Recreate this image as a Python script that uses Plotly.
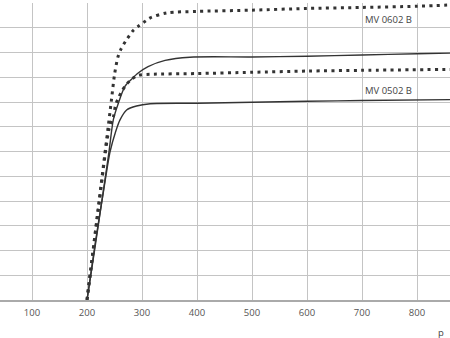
import plotly.graph_objects as go

# MV 0602 B, dotted curve (upper)
x_602_dot = [200, 222, 244, 250, 256, 262, 270, 284, 295, 307, 315, 345, 400, 500, 600, 700, 800, 870]
y_602_dot = [0, 4.0, 8.0, 9.1, 9.8, 10.15, 10.45, 10.89, 11.09, 11.28, 11.4, 11.6, 11.66, 11.71, 11.78, 11.82, 11.87, 11.93]

# MV 0602 B, solid curve
x_602_sol = [200, 215, 230, 240, 248, 257, 269, 281, 293, 311, 342, 387, 500, 600, 700, 800, 870]
y_602_sol = [0, 2.2, 4.45, 6.0, 7.3, 7.95, 8.63, 8.92, 9.17, 9.43, 9.68, 9.81, 9.82, 9.85, 9.9, 9.95, 9.98]

# MV 0502 B, dotted curve
x_502_dot = [200, 222, 240, 248, 252, 257, 263, 272, 281, 293, 315, 400, 500, 600, 700, 870]
y_502_dot = [0, 3.9, 6.9, 7.4, 7.88, 8.16, 8.42, 8.72, 8.92, 9.08, 9.12, 9.15, 9.2, 9.25, 9.28, 9.32]

# MV 0502 B, solid curve
x_502_sol = [200, 215, 230, 242, 252, 260, 272, 290, 315, 400, 500, 600, 700, 870]
y_502_sol = [0, 2.3, 4.4, 6.0, 6.8, 7.28, 7.68, 7.84, 7.93, 7.95, 7.99, 8.03, 8.06, 8.1]

x_ticks = [100, 200, 300, 400, 500, 600, 700, 800]
labels = ["MV 0602 B", "MV 0502 B"]
label_x = [749, 749]
label_y = [11.32, 8.46]

line_col = "#333333"
fig = go.Figure()
for xs, ys, dotted in [(x_602_dot, y_602_dot, True), (x_502_dot, y_502_dot, True),
                       (x_602_sol, y_602_sol, False), (x_502_sol, y_502_sol, False)]:
    fig.add_trace(go.Scatter(
        x=xs, y=ys, mode="lines",
        line=dict(color=line_col, width=3 if dotted else 1.4,
                  dash="3px,4.4px" if dotted else "solid",
                  shape="spline", smoothing=0.8),
        hoverinfo="skip", showlegend=False))

for t, lx, ly in zip(labels, label_x, label_y):
    fig.add_annotation(x=lx, y=ly, text=t, showarrow=False,
                       font=dict(family="Open Sans", size=9.5, color="#444444"))

fig.add_annotation(x=0.968, y=-0.108, xref="paper", yref="paper", text="p", showarrow=False,
                   xanchor="left", yanchor="middle",
                   font=dict(family="Open Sans", size=9.5, color="#444444"))

fig.update_xaxes(range=[41.8, 860], tickvals=x_ticks, ticktext=[str(v) for v in x_ticks],
                 showgrid=True, gridcolor="#c4c4c4", gridwidth=1,
                 showline=True, linecolor="#aaaaaa", linewidth=1.5,
                 ticks="", zeroline=False, ticklabelstandoff=3,
                 tickfont=dict(family="Open Sans", size=9.5, color="#555555"))
fig.update_yaxes(range=[0, 12], dtick=1, showticklabels=False,
                 showgrid=True, gridcolor="#c4c4c4", gridwidth=1,
                 zeroline=False, ticks="")

fig.update_layout(width=450, height=338, margin=dict(l=0, r=0, t=3, b=38),
                  paper_bgcolor="white", plot_bgcolor="white")
fig.write_html("out.html")
